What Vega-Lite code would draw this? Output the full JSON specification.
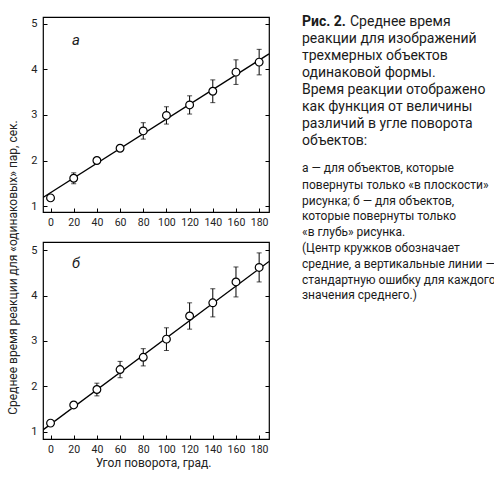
{
  "$schema": "https://vega.github.io/schema/vega-lite/v6.json",
  "description": "Mean reaction time vs rotation angle, panels a and b, with caption.",
  "padding": {"top": 15, "left": 5, "right": 0, "bottom": 0},
  "spacing": 31,
  "background": "white",
  "config": {
    "font": "Roboto",
    "axis": {
      "domain": false,
      "grid": false,
      "tickColor": "black",
      "tickSize": -4,
      "tickWidth": 1,
      "labelFont": "Roboto",
      "labelFontSize": 11,
      "labelColor": "#222",
      "labelOverlap": false,
      "titleFont": "Roboto",
      "titleFontSize": 12,
      "titleFontWeight": "normal",
      "titleColor": "#222"
    },
    "text": {"font": "Roboto", "color": "#1a1a1a"}
  },
  "datasets": {
    "ptsA": [
      {"angle": 0, "rt": 1.18, "se": 0},
      {"angle": 20, "rt": 1.61, "se": 0.12},
      {"angle": 40, "rt": 2.0, "se": 0},
      {"angle": 60, "rt": 2.27, "se": 0.06},
      {"angle": 80, "rt": 2.65, "se": 0.18},
      {"angle": 100, "rt": 2.99, "se": 0.19},
      {"angle": 120, "rt": 3.22, "se": 0.2},
      {"angle": 140, "rt": 3.52, "se": 0.25},
      {"angle": 160, "rt": 3.94, "se": 0.27},
      {"angle": 180, "rt": 4.16, "se": 0.28}
    ],
    "ptsB": [
      {"angle": 0, "rt": 1.19, "se": 0},
      {"angle": 20, "rt": 1.59, "se": 0.05},
      {"angle": 40, "rt": 1.93, "se": 0.14},
      {"angle": 60, "rt": 2.37, "se": 0.18},
      {"angle": 80, "rt": 2.64, "se": 0.19},
      {"angle": 100, "rt": 3.04, "se": 0.25},
      {"angle": 120, "rt": 3.55, "se": 0.29},
      {"angle": 140, "rt": 3.84, "se": 0.31},
      {"angle": 160, "rt": 4.3, "se": 0.33},
      {"angle": 180, "rt": 4.62, "se": 0.32}
    ],
    "fitA": [
      {"angle": -6.5, "rt": 1.19},
      {"angle": 188.5, "rt": 4.34}
    ],
    "fitB": [
      {"angle": -6.5, "rt": 1.04},
      {"angle": 188.5, "rt": 4.75}
    ],
    "letterA": [{"angle": 22, "rt": 4.64, "label": "а"}],
    "letterB": [{"angle": 22, "rt": 4.72, "label": "б"}],
    "caption": [
      {"pos": 0.3, "kind": "fig", "text": "Рис. 2."},
      {"pos": 0.3, "kind": "first", "text": "Среднее время"},
      {"pos": 1.3, "kind": "main", "text": "реакции для изображений"},
      {"pos": 2.3, "kind": "main", "text": "трехмерных объектов"},
      {"pos": 3.3, "kind": "main", "text": "одинаковой формы."},
      {"pos": 4.3, "kind": "main", "text": "Время реакции отображено"},
      {"pos": 5.3, "kind": "main", "text": "как функция от величины"},
      {"pos": 6.3, "kind": "main", "text": "различий в угле поворота"},
      {"pos": 7.3, "kind": "main", "text": "объектов:"},
      {"pos": 8.88, "kind": "note", "text": "а — для объектов, которые"},
      {"pos": 9.86, "kind": "note", "text": "повернуты только «в плоскости»"},
      {"pos": 10.84, "kind": "note", "text": "рисунка; б — для объектов,"},
      {"pos": 11.72, "kind": "note", "text": "которые повернуты только"},
      {"pos": 12.65, "kind": "note", "text": "«в глубь» рисунка."},
      {"pos": 13.57, "kind": "note", "text": "(Центр кружков обозначает"},
      {"pos": 14.55, "kind": "note", "text": "средние, а вертикальные линии —"},
      {"pos": 15.49, "kind": "note", "text": "стандартную ошибку для каждого"},
      {"pos": 16.37, "kind": "note", "text": "значения среднего.)"}
    ]
  },
  "hconcat": [
    {
      "vconcat": [
        {
          "width": 226,
          "height": 195,
          "view": {"stroke": "black", "strokeWidth": 1.2},
          "resolve": {"axis": {"y": "independent"}},
          "encoding": {
            "x": {"field": "angle", "type": "quantitative", "scale": {"domain": [-6.5, 188.5], "nice": false},
                  "axis": {"values": [0, 20, 40, 60, 80, 100, 120, 140, 160, 180], "tickCount": 10, "title": null,
                           "labelPadding": 9, "labelOverlap": false, "labelFontSize": 10.5}}
          },
          "layer": [
            {
              "data": {"name": "fitA"},
              "mark": {"type": "line", "color": "black", "strokeWidth": 1.3, "clip": true},
              "encoding": {
                "y": {"field": "rt", "type": "quantitative", "scale": {"domain": [0.87, 5.15], "nice": false, "zero": false},
                      "axis": {"values": [1, 2, 3, 4, 5], "labelPadding": 10,
                               "title": "Среднее время реакции для «одинаковых» пар, сек.",
                               "titleX": -31, "titleY": 250, "titleAngle": -90, "titleAlign": "center", "titleBaseline": "middle"}}
              }
            },
            {
              "data": {"name": "ptsA"},
              "mark": {"type": "errorbar", "ticks": {"size": 5}, "color": "black", "thickness": 1},
              "encoding": {
                "y": {"field": "rt", "type": "quantitative",
                      "axis": {"orient": "right", "values": [1, 2, 3, 4, 5], "labels": false, "title": null}},
                "yError": {"field": "se"}
              }
            },
            {
              "data": {"name": "ptsA"},
              "mark": {"type": "point", "shape": "circle", "filled": true, "fill": "white", "stroke": "black", "strokeWidth": 1.2, "size": 60, "opacity": 1},
              "encoding": {
                "y": {"field": "rt", "type": "quantitative", "axis": null}
              }
            },
            {
              "data": {"name": "letterA"},
              "mark": {"type": "text", "fontSize": 15, "fontStyle": "italic"},
              "encoding": {
                "y": {"field": "rt", "type": "quantitative", "axis": null},
                "text": {"field": "label"}
              }
            }
          ]
        },
        {
          "width": 226,
          "height": 197,
          "view": {"stroke": "black", "strokeWidth": 1.2},
          "resolve": {"axis": {"y": "independent"}},
          "encoding": {
            "x": {"field": "angle", "type": "quantitative", "scale": {"domain": [-6.5, 188.5], "nice": false},
                  "axis": {"values": [0, 20, 40, 60, 80, 100, 120, 140, 160, 180], "tickCount": 10,
                           "labelPadding": 9, "labelOverlap": false, "labelFontSize": 10.5,
                           "title": "Угол поворота, град.", "titlePadding": 3, "titleX": 110}}
          },
          "layer": [
            {
              "data": {"name": "fitB"},
              "mark": {"type": "line", "color": "black", "strokeWidth": 1.3, "clip": true},
              "encoding": {
                "y": {"field": "rt", "type": "quantitative", "scale": {"domain": [0.84, 5.18], "nice": false, "zero": false},
                      "axis": {"values": [1, 2, 3, 4, 5], "labelPadding": 10, "title": null}}
              }
            },
            {
              "data": {"name": "ptsB"},
              "mark": {"type": "errorbar", "ticks": {"size": 5}, "color": "black", "thickness": 1},
              "encoding": {
                "y": {"field": "rt", "type": "quantitative",
                      "axis": {"orient": "right", "values": [1, 2, 3, 4, 5], "labels": false, "title": null}},
                "yError": {"field": "se"}
              }
            },
            {
              "data": {"name": "ptsB"},
              "mark": {"type": "point", "shape": "circle", "filled": true, "fill": "white", "stroke": "black", "strokeWidth": 1.2, "size": 60, "opacity": 1},
              "encoding": {
                "y": {"field": "rt", "type": "quantitative", "axis": null}
              }
            },
            {
              "data": {"name": "letterB"},
              "mark": {"type": "text", "fontSize": 15, "fontStyle": "italic"},
              "encoding": {
                "y": {"field": "rt", "type": "quantitative", "axis": null},
                "text": {"field": "label"}
              }
            }
          ]
        }
      ],
      "spacing": 30,
      "bounds": "flush"
    },
    {
      "width": 190,
      "height": 306,
      "view": {"stroke": null},
      "data": {"name": "caption"},
      "encoding": {
        "x": {"datum": 0, "type": "quantitative", "scale": {"domain": [0, 1]}, "axis": null},
        "y": {"field": "pos", "type": "quantitative", "scale": {"domain": [0, 18], "reverse": true, "nice": false}, "axis": null},
        "text": {"field": "text"}
      },
      "layer": [
        {
          "transform": [{"filter": "datum.kind === 'fig'"}],
          "mark": {"type": "text", "align": "left", "baseline": "middle", "fontSize": 14, "fontWeight": "bold"}
        },
        {
          "transform": [{"filter": "datum.kind === 'first'"}],
          "mark": {"type": "text", "align": "left", "baseline": "middle", "fontSize": 14, "dx": 48}
        },
        {
          "transform": [{"filter": "datum.kind === 'main'"}],
          "mark": {"type": "text", "align": "left", "baseline": "middle", "fontSize": 14}
        },
        {
          "transform": [{"filter": "datum.kind === 'note'"}],
          "mark": {"type": "text", "align": "left", "baseline": "middle", "fontSize": 12}
        }
      ]
    }
  ]
}
